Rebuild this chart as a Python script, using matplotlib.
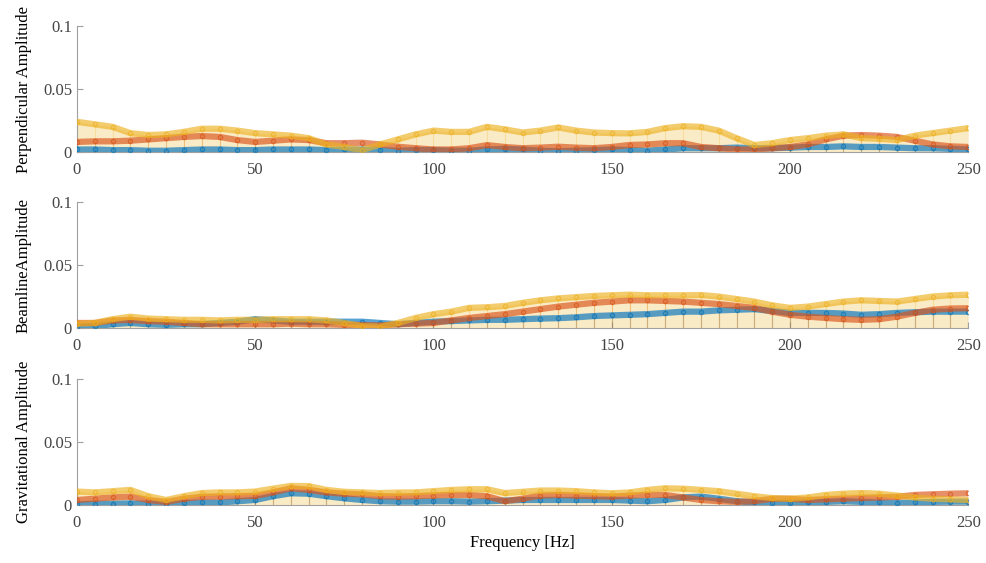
# Amplitude spectra of three axes, MATLAB-like stem style
import matplotlib.pyplot as plt
import numpy as np

plt.rcParams['font.family'] = ['Liberation Serif', 'DejaVu Serif']

freq = np.arange(0, 251, 5)

perp_blue = [0.002, 0.002, 0.0015, 0.0015, 0.001, 0.001, 0.0015, 0.002, 0.002, 0.0015,
             0.0015, 0.002, 0.002, 0.002, 0.0015, 0.002, 0.002, 0.0015, 0.001, 0.0015,
             0.0015, 0.001, 0.001, 0.002, 0.0025, 0.002, 0.001, 0.0005, 0.001, 0.0015,
             0.002, 0.0015, 0.001, 0.002, 0.003, 0.003, 0.003, 0.0035, 0.003, 0.003,
             0.0035, 0.004, 0.004, 0.0045, 0.004, 0.004, 0.0035, 0.003, 0.003, 0.0025, 0.002]
perp_orange = [0.008, 0.0085, 0.0085, 0.009, 0.010, 0.011, 0.012, 0.0127, 0.012, 0.0095,
               0.008, 0.009, 0.010, 0.0095, 0.007, 0.007, 0.0074, 0.006, 0.0042, 0.003,
               0.002, 0.002, 0.003, 0.0055, 0.004, 0.003, 0.0035, 0.0042, 0.0035, 0.003,
               0.004, 0.0056, 0.006, 0.007, 0.007, 0.004, 0.003, 0.002, 0.002, 0.003,
               0.004, 0.006, 0.010, 0.013, 0.0135, 0.013, 0.012, 0.009, 0.006, 0.0045, 0.004]
perp_yellow = [0.024, 0.022, 0.020, 0.015, 0.0135, 0.014, 0.016, 0.0185, 0.0185, 0.017,
               0.015, 0.014, 0.013, 0.011, 0.006, 0.004, 0.0015, 0.006, 0.010, 0.014,
               0.017, 0.016, 0.016, 0.020, 0.018, 0.0155, 0.017, 0.0195, 0.017, 0.0155,
               0.015, 0.0148, 0.016, 0.019, 0.0205, 0.020, 0.017, 0.011, 0.0055, 0.007,
               0.0095, 0.011, 0.013, 0.014, 0.011, 0.0105, 0.0095, 0.013, 0.015, 0.017, 0.019]

beam_blue = [0.001, 0.0015, 0.003, 0.004, 0.003, 0.0025, 0.003, 0.003, 0.004, 0.005,
             0.007, 0.006, 0.005, 0.005, 0.005, 0.005, 0.005, 0.004, 0.003, 0.004,
             0.005, 0.0055, 0.006, 0.0065, 0.0065, 0.007, 0.0075, 0.0078, 0.0085, 0.0095,
             0.010, 0.0105, 0.011, 0.012, 0.013, 0.013, 0.014, 0.0145, 0.015, 0.0135,
             0.012, 0.012, 0.012, 0.0115, 0.0105, 0.011, 0.012, 0.0125, 0.013, 0.013, 0.013]
beam_orange = [0.004, 0.004, 0.006, 0.0064, 0.0055, 0.005, 0.004, 0.003, 0.003, 0.003,
               0.003, 0.003, 0.0035, 0.003, 0.003, 0.0025, 0.0024, 0.002, 0.003, 0.0035,
               0.004, 0.006, 0.008, 0.0095, 0.011, 0.013, 0.015, 0.017, 0.0185, 0.020,
               0.021, 0.022, 0.022, 0.0215, 0.021, 0.020, 0.019, 0.0175, 0.016, 0.013,
               0.0105, 0.009, 0.008, 0.007, 0.0065, 0.007, 0.009, 0.012, 0.0145, 0.0155, 0.0157]
beam_yellow = [0.0035, 0.004, 0.007, 0.009, 0.0075, 0.007, 0.0065, 0.0065, 0.006, 0.0065,
               0.0065, 0.007, 0.007, 0.007, 0.006, 0.004, 0.0015, 0.001, 0.004, 0.008,
               0.011, 0.013, 0.016, 0.0165, 0.0175, 0.020, 0.022, 0.0235, 0.0245, 0.0255,
               0.026, 0.0265, 0.026, 0.026, 0.026, 0.0262, 0.025, 0.023, 0.021, 0.018,
               0.016, 0.017, 0.019, 0.021, 0.022, 0.0215, 0.021, 0.023, 0.025, 0.026, 0.0265]

grav_blue = [0.0005, 0.001, 0.001, 0.0013, 0.001, 0.0008, 0.0015, 0.002, 0.002, 0.003,
             0.004, 0.007, 0.0093, 0.009, 0.007, 0.0053, 0.004, 0.003, 0.0027, 0.0027,
             0.003, 0.003, 0.0027, 0.003, 0.0035, 0.004, 0.004, 0.004, 0.004, 0.004,
             0.004, 0.0035, 0.003, 0.004, 0.006, 0.0067, 0.005, 0.003, 0.002, 0.0015,
             0.0015, 0.002, 0.0025, 0.003, 0.0025, 0.002, 0.0015, 0.002, 0.0025, 0.0027, 0.0027]
grav_orange = [0.004, 0.005, 0.006, 0.0067, 0.004, 0.0025, 0.005, 0.0065, 0.0067, 0.007,
               0.0072, 0.010, 0.0133, 0.012, 0.010, 0.009, 0.0085, 0.007, 0.0067, 0.007,
               0.0075, 0.008, 0.008, 0.007, 0.003, 0.005, 0.0075, 0.008, 0.0075, 0.007,
               0.0067, 0.0075, 0.008, 0.008, 0.006, 0.004, 0.003, 0.0025, 0.003, 0.005,
               0.005, 0.004, 0.0045, 0.005, 0.0055, 0.006, 0.0065, 0.008, 0.0085, 0.009, 0.0093]
grav_yellow = [0.0107, 0.010, 0.011, 0.012, 0.007, 0.004, 0.007, 0.0095, 0.010, 0.010,
               0.0107, 0.013, 0.0152, 0.015, 0.012, 0.0105, 0.010, 0.0095, 0.0099, 0.010,
               0.011, 0.012, 0.0125, 0.0125, 0.0095, 0.0105, 0.0115, 0.0115, 0.011, 0.010,
               0.0093, 0.010, 0.012, 0.0133, 0.013, 0.012, 0.011, 0.009, 0.007, 0.0055,
               0.005, 0.006, 0.008, 0.009, 0.0095, 0.009, 0.0075, 0.006, 0.005, 0.0045, 0.004]

panels = [
    ('Perpendicular Amplitude', [perp_blue, perp_orange, perp_yellow]),
    ('BeamlineAmplitude', [beam_blue, beam_orange, beam_yellow]),
    ('Gravitational Amplitude', [grav_blue, grav_orange, grav_yellow]),
]
colors = ['#0072BD', '#D95319', '#EDB120']

fig = plt.figure(figsize=(9.86, 5.63), dpi=100)
bottoms = [0.730, 0.4174, 0.103]
height = 0.2235

for (label, series), b in zip(panels, bottoms):
    ax = fig.add_axes([0.078, b, 0.904, height])
    ax.fill_between(freq, 0, series[2], color='#EDB120', alpha=0.25, lw=0, zorder=1)
    for vals, c in zip(series, colors):
        ax.vlines(freq, 0, vals, color=c, alpha=0.25, lw=0.8, zorder=2)
        ax.plot(freq, vals, color=c, lw=4.5, alpha=0.65, marker='o', ms=3,
                mfc='none', mew=1, solid_capstyle='round', zorder=3)
    ax.set_xlim(0, 250)
    ax.set_ylim(0, 0.1)
    ax.set_xticks([0, 50, 100, 150, 200, 250])
    ax.set_yticks([0, 0.05, 0.1])
    ax.set_yticklabels(['0', '0.05', '0.1'])
    ax.set_ylabel(label, fontsize=12, labelpad=8)
    for s in ['top', 'right']:
        ax.spines[s].set_visible(False)
    for s in ['left', 'bottom']:
        ax.spines[s].set_color('#a0a0a0')
        ax.spines[s].set_linewidth(0.8)
    ax.tick_params(direction='in', length=4, color='#a0a0a0', labelsize=12,
                   labelcolor='#444444')
    ax.tick_params(axis='x', pad=7)

ax.set_xlabel('Frequency [Hz]', fontsize=12, labelpad=3)

plt.savefig('out.png', dpi=100)
